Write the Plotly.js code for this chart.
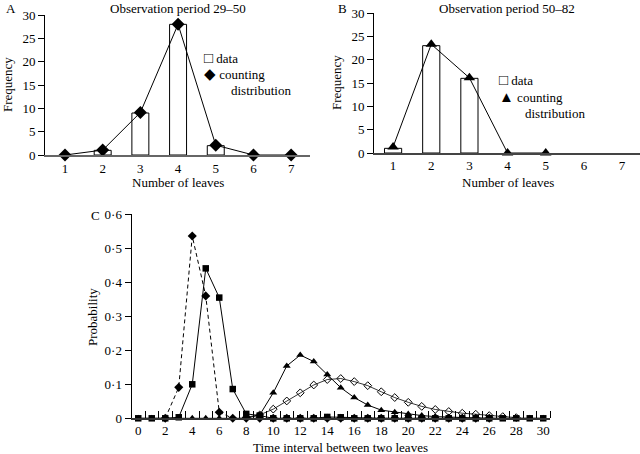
<!DOCTYPE html>
<html><head><meta charset="utf-8">
<script src="https://cdn.plot.ly/plotly-3.0.1.min.js"></script>
<style>html,body{margin:0;padding:0;background:#fff}#chart{width:640px;height:454px}</style>
</head><body><div id="chart"></div>
<script>
// Panel A
const leavesA = [1, 2, 3, 4, 5, 6, 7];
const dataA = [0, 1, 9, 28, 2, 0, 0];
const fitA = [0, 1.05, 9.1, 28, 2.1, 0, 0];
// Panel B
const leavesB = [1, 2, 3, 4, 5, 6, 7];
const dataB = [1, 23, 16, 0, 0, 0, 0];
const fitBx = [1, 2, 3, 4, 5];
const fitB = [1.3, 23.3, 16.1, 0, 0];
// Panel C
const tC = Array.from({length: 31}, (_, i) => i);
const squaresC = [0,0,0,0.003,0.1,0.441,0.355,0.086,0.013,0.008,0,0,0,0,0.004,0.003,0,0,0,0,0,0,0,0,0,0,0,0,0,0,0];
const trianglesC = [0,0,0,0,0,0,0,0,0,0.01,0.075,0.154,0.186,0.167,0.129,0.09,0.061,0.039,0.024,0.018,0.013,0.008,0.005,0.003,0.002,0.001,0,0,0,0,0];
const diamondX = [2,3,4,5,6,7,8,9,10,11,12,13,14,15,16,17,18,19,20,21,22,23,24,25,26];
const diamondC = [0,0.091,0.536,0.36,0.018,0,0,0,0,0,0,0,0,0,0,0,0,0,0,0,0,0,0,0,0];
const openX = [8,9,10,11,12,13,14,15,16,17,18,19,20,21,22,23,24,25,26,27,28];
const openC = [0.003,0.01,0.027,0.051,0.075,0.098,0.114,0.117,0.108,0.096,0.078,0.061,0.047,0.035,0.026,0.02,0.015,0.012,0.008,0.005,0.002];
const probTicks = [0, 0.1, 0.2, 0.3, 0.4, 0.5, 0.6];
const probLabels = ['0', '0·1', '0·2', '0·3', '0·4', '0·5', '0·6'];
const evenTicks = [0,2,4,6,8,10,12,14,16,18,20,22,24,26,28,30];
const halfTicks = Array.from({length: 31}, (_, i) => i + 0.5);

const W = 640, H = 454;
const px = v => v / W;
const py = v => (H - v) / H;
const F = 'Liberation Serif, Times New Roman, serif';

const keep = (xs, ys) => xs.filter((_, i) => ys[i] > 0);
const keepY = ys => ys.filter(v => v > 0);

const traces = [
  {type: 'bar', x: keep(leavesA, dataA), y: keepY(dataA), width: 0.45, xaxis: 'x', yaxis: 'y',
   marker: {color: '#fff', line: {color: '#000', width: 1}}, showlegend: false},
  {type: 'scatter', mode: 'lines+markers', x: leavesA, y: fitA, xaxis: 'x', yaxis: 'y', cliponaxis: false,
   line: {color: '#000', width: 1}, marker: {symbol: 'diamond', size: 10, color: '#000'}, showlegend: false},
  {type: 'bar', x: keep(leavesB, dataB), y: keepY(dataB), width: 0.45, xaxis: 'x2', yaxis: 'y2',
   marker: {color: '#fff', line: {color: '#000', width: 1}}, showlegend: false},
  {type: 'scatter', mode: 'lines+markers', x: fitBx, y: fitB, xaxis: 'x2', yaxis: 'y2', cliponaxis: false,
   line: {color: '#000', width: 1}, marker: {symbol: 'triangle-up', size: 10, color: '#000'}, showlegend: false},
  {type: 'scatter', mode: 'lines+markers', x: openX, y: openC, xaxis: 'x3', yaxis: 'y3', cliponaxis: false,
   line: {color: '#000', width: 0.8}, marker: {symbol: 'diamond-open', size: 6, color: '#000', line: {width: 1}}, showlegend: false},
  {type: 'scatter', mode: 'lines+markers', x: tC, y: trianglesC, xaxis: 'x3', yaxis: 'y3', cliponaxis: false,
   line: {color: '#000', width: 1}, marker: {symbol: 'triangle-up', size: 7, color: '#000'}, showlegend: false},
  {type: 'scatter', mode: 'lines+markers', x: diamondX, y: diamondC, xaxis: 'x3', yaxis: 'y3', cliponaxis: false,
   line: {color: '#000', width: 1, dash: '4px,3px'}, marker: {symbol: 'diamond', size: 7, color: '#000'}, showlegend: false},
  {type: 'scatter', mode: 'lines+markers', x: tC, y: squaresC, xaxis: 'x3', yaxis: 'y3', cliponaxis: false,
   line: {color: '#000', width: 1}, marker: {symbol: 'square', size: 6.5, color: '#000'}, showlegend: false}
];

const axBase = {showgrid: false, zeroline: false, showline: true, linecolor: '#000', linewidth: 1,
  tickfont: {family: F, size: 13, color: '#000'}, tickcolor: '#000', fixedrange: true};

const sym = s => '<span style="font-size:15px">' + s + '</span>';

const layout = {
  width: W, height: H, margin: {l: 0, r: 0, t: 0, b: 0},
  paper_bgcolor: '#fff', plot_bgcolor: 'rgba(0,0,0,0)',
  font: {family: F, size: 13, color: '#000'},
  showlegend: false, bargap: 0,
  xaxis: Object.assign({}, axBase, {domain: [px(45), px(310)], range: [0.47, 7.5], anchor: 'y',
    tickvals: leavesA, ticks: '', linecolor: '#666', linewidth: 2}),
  yaxis: Object.assign({}, axBase, {domain: [py(155), py(15)], range: [0, 30], anchor: 'x',
    tickvals: [0,5,10,15,20,25,30], ticks: 'outside', ticklen: 6}),
  xaxis2: Object.assign({}, axBase, {domain: [px(374), 1], range: [0.5, 7.47], anchor: 'y2',
    tickvals: leavesB, ticks: '', linecolor: '#444', linewidth: 1.5}),
  yaxis2: Object.assign({}, axBase, {domain: [py(153), py(13)], range: [0, 30], anchor: 'x2',
    tickvals: [0,5,10,15,20,25,30], ticks: 'outside', ticklen: 6}),
  xaxis3: Object.assign({}, axBase, {domain: [px(131.5), px(550)], range: [-0.5, 30.5], anchor: 'y3',
    tickvals: evenTicks, ticks: '', linecolor: '#333', linewidth: 1.5,
    minor: {tickmode: 'array', tickvals: halfTicks, ticks: 'inside', ticklen: 7, tickcolor: '#000', tickwidth: 1}}),
  yaxis3: Object.assign({}, axBase, {domain: [py(418.3), py(214.3)], range: [0, 0.6], anchor: 'x3',
    tickvals: probTicks, ticktext: probLabels, ticks: 'outside', ticklen: 6}),
  annotations: [
    {text: 'A', x: px(4), y: py(8), xanchor: 'left', yanchor: 'middle'},
    {text: 'Observation period 29–50', x: px(178), y: py(8), xanchor: 'center', yanchor: 'middle'},
    {text: 'Frequency', x: px(7), y: py(85), textangle: -90, xanchor: 'center', yanchor: 'middle'},
    {text: 'Number of leaves', x: px(178), y: py(182), xanchor: 'center', yanchor: 'middle'},
    {text: sym('□') + ' data', x: px(202), y: py(58), xanchor: 'left', yanchor: 'middle'},
    {text: sym('◆') + ' counting', x: px(202), y: py(74), xanchor: 'left', yanchor: 'middle'},
    {text: 'distribution', x: px(229), y: py(90), xanchor: 'left', yanchor: 'middle'},
    {text: 'B', x: px(336), y: py(8), xanchor: 'left', yanchor: 'middle'},
    {text: 'Observation period 50–82', x: px(507), y: py(8), xanchor: 'center', yanchor: 'middle'},
    {text: 'Frequency', x: px(337), y: py(83), textangle: -90, xanchor: 'center', yanchor: 'middle'},
    {text: 'Number of leaves', x: px(508), y: py(182), xanchor: 'center', yanchor: 'middle'},
    {text: sym('□') + ' data', x: px(497), y: py(80), xanchor: 'left', yanchor: 'middle'},
    {text: sym('▲') + ' counting', x: px(497), y: py(97), xanchor: 'left', yanchor: 'middle'},
    {text: 'distribution', x: px(523), y: py(113), xanchor: 'left', yanchor: 'middle'},
    {text: 'C', x: px(89), y: py(215), xanchor: 'left', yanchor: 'middle'},
    {text: 'Probability', x: px(92), y: py(317), textangle: -90, xanchor: 'center', yanchor: 'middle'},
    {text: 'Time interval between two leaves', x: px(340), y: py(447), xanchor: 'center', yanchor: 'middle'}
  ].map(a => Object.assign({xref: 'paper', yref: 'paper', showarrow: false, font: {family: F, size: 13, color: '#000'}}, a))
};

Plotly.newPlot('chart', traces, layout, {staticPlot: true, displayModeBar: false});
</script></body></html>
